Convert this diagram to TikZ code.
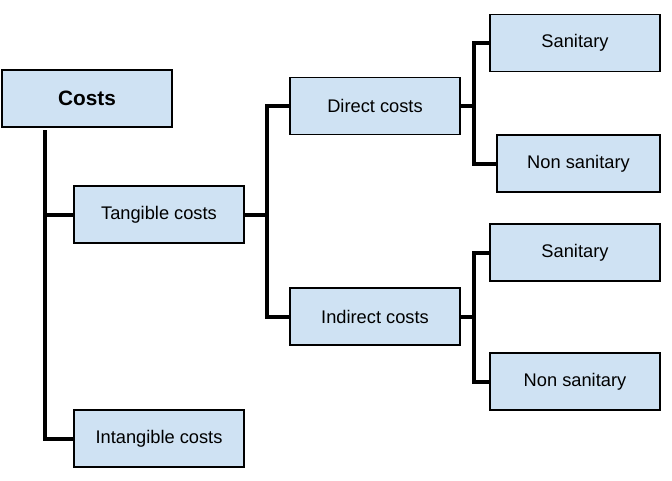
\documentclass[tikz,border=0pt]{standalone}
\usepackage{fontspec}
\setmainfont{Liberation Sans}
\usetikzlibrary{calc,positioning}
\definecolor{boxblue}{HTML}{CFE2F3}

\begin{document}
\begin{tikzpicture}[x=0.75pt,y=-0.75pt,
    box/.style={draw=black,line width=0.8pt,fill=boxblue,minimum width=127.5pt,minimum height=42.75pt,inner sep=0pt,font=\fontsize{13.7}{16}\selectfont},
    link/.style={line width=3pt,line join=miter}]
    \useasboundingbox (0,0) rectangle (672,480);
    % root and first level
    \node[box,font=\bfseries\fontsize{15.6}{18}\selectfont] (costs) at (87,98.5) {Costs};
    \node[box] (tangible) at (159,214.5) {Tangible costs};
    \node[box] (intangible) at (159,438.5) {Intangible costs};
    % second level
    \node[box] (direct) at (375,106) {Direct costs};
    \node[box] (indirect) at (375,316.5) {Indirect costs};
    % leaves
    \node[box] (san1) at (575,43) {Sanitary};
    \node[box,minimum width=122.25pt] (nonsan1) at (578.5,163.5) {Non sanitary};
    \node[box] (san2) at (575,252.5) {Sanitary};
    \node[box] (nonsan2) at (575,381.5) {Non sanitary};
    % connectors
    \coordinate (trunk) at (45,130);
    \draw[link] (trunk) |- (tangible.west);
    \draw[link] (trunk) |- (intangible.west);
    \coordinate (j1) at (267,214.5);
    \draw[link] (tangible.east) -- (j1) |- (direct.west);
    \draw[link] (j1) |- (indirect.west);
    \coordinate (j2) at (474,106);
    \draw[link] (direct.east) -- (j2) |- (san1.west);
    \draw[link] (j2) |- (nonsan1.west);
    \coordinate (j3) at (474,316.5);
    \draw[link] (indirect.east) -- (j3) |- (san2.west);
    \draw[link] (j3) |- (nonsan2.west);
\end{tikzpicture}
\end{document}
